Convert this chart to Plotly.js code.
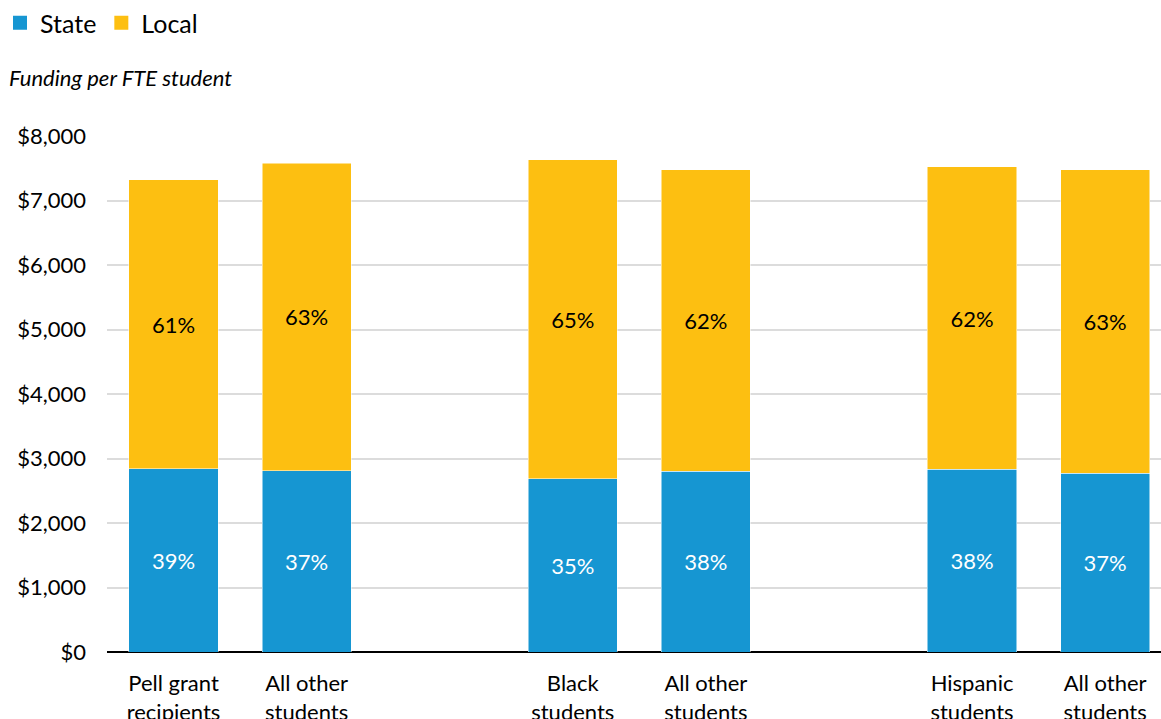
<!DOCTYPE html>
<html>
<head>
<meta charset="utf-8">
<script src="https://cdn.plot.ly/plotly-3.0.1.min.js"></script>
<style>html,body{margin:0;padding:0;background:#fff;}#chart{width:1161px;height:719px;}</style>
</head>
<body>
<div id="chart"></div>
<script>
// Category slots (gap slots are spacers between groups)
const categoryKeys = ["pell", "other1", "gap1", "black", "other2", "gap2", "hispanic", "other3"];
const categoryLabels = ["Pell grant<br>recipients", "All other<br>students", "", "Black<br>students", "All other<br>students", "", "Hispanic<br>students", "All other<br>students"];

// Funding per FTE student (dollars)
const stateValues = [2840, 2810, null, 2690, 2800, null, 2830, 2770];
const localValues = [4480, 4770, null, 4940, 4680, null, 4690, 4710];

// Share labels
const stateLabels = ["39%", "37%", "", "35%", "38%", "", "38%", "37%"];
const localLabels = ["61%", "63%", "", "65%", "62%", "", "62%", "63%"];

const yTickVals = [0, 1000, 2000, 3000, 4000, 5000, 6000, 7000, 8000];
const yTickText = ["$0", "$1,000", "$2,000", "$3,000", "$4,000", "$5,000", "$6,000", "$7,000", "$8,000"];

const FONT = "Lato, 'Open Sans', sans-serif";
const STATE_COLOR = "#1696d2";
const LOCAL_COLOR = "#fdbf11";

const traces = [
  {
    type: "bar", name: "State", x: categoryKeys, y: stateValues, showlegend: false,
    text: stateLabels, textposition: "inside", insidetextanchor: "middle",
    textfont: {family: FONT, size: 22, color: "#ffffff"},
    marker: {color: STATE_COLOR, line: {color: "#ffffff", width: 0.5}},
    hoverinfo: "skip"
  },
  {
    type: "bar", name: "Local", x: categoryKeys, y: localValues, showlegend: false,
    text: localLabels, textposition: "inside", insidetextanchor: "middle",
    textfont: {family: FONT, size: 22, color: "#000000"},
    marker: {color: LOCAL_COLOR, line: {color: "#ffffff", width: 0.5}},
    hoverinfo: "skip"
  },
  // legend-only entries with larger square swatches
  {
    type: "scatter", mode: "markers", name: "State", x: [null], y: [null],
    marker: {symbol: "square", size: 14, color: STATE_COLOR}, showlegend: true, hoverinfo: "skip"
  },
  {
    type: "scatter", mode: "markers", name: "Local", x: [null], y: [null],
    marker: {symbol: "square", size: 14, color: LOCAL_COLOR}, showlegend: true, hoverinfo: "skip"
  }
];

const layout = {
  width: 1161, height: 719,
  barmode: "stack", bargap: 0.33,
  paper_bgcolor: "#ffffff", plot_bgcolor: "#ffffff",
  margin: {l: 107, r: 0, t: 136, b: 67, pad: 0},
  font: {family: FONT, color: "#000000", size: 22},
  showlegend: true,
  legend: {
    orientation: "h", xref: "container", yref: "container",
    x: 0, y: 1, xanchor: "left", yanchor: "top",
    font: {family: FONT, size: 25, color: "#000000"},
    itemwidth: 30, traceorder: "normal"
  },
  xaxis: {
    type: "category", categoryorder: "array", categoryarray: categoryKeys,
    tickmode: "array", tickvals: categoryKeys, ticktext: categoryLabels,
    range: [-0.5, 7.42],
    showgrid: false, zeroline: false, showline: false,
    ticks: "", ticklabelstandoff: 16,
    tickfont: {family: FONT, size: 22, color: "#000000"},
    fixedrange: true
  },
  yaxis: {
    range: [0, 8000], tickmode: "array", tickvals: yTickVals, ticktext: yTickText,
    showgrid: true, gridcolor: "#dcdcdc", gridwidth: 2,
    zeroline: true, zerolinecolor: "#000000", zerolinewidth: 2,
    showline: false, ticks: "", ticklabelstandoff: 20,
    tickfont: {family: FONT, size: 22, color: "#000000"},
    fixedrange: true
  },
  annotations: [
    {
      text: "<i>Funding per FTE student</i>", xref: "paper", yref: "paper",
      x: 0, y: 1, xshift: -100, yshift: 59, xanchor: "left", yanchor: "middle",
      showarrow: false, font: {family: FONT, size: 22, color: "#000000"}
    }
  ]
};

Plotly.newPlot("chart", traces, layout, {displayModeBar: false, staticPlot: true});
</script>
</body>
</html>
